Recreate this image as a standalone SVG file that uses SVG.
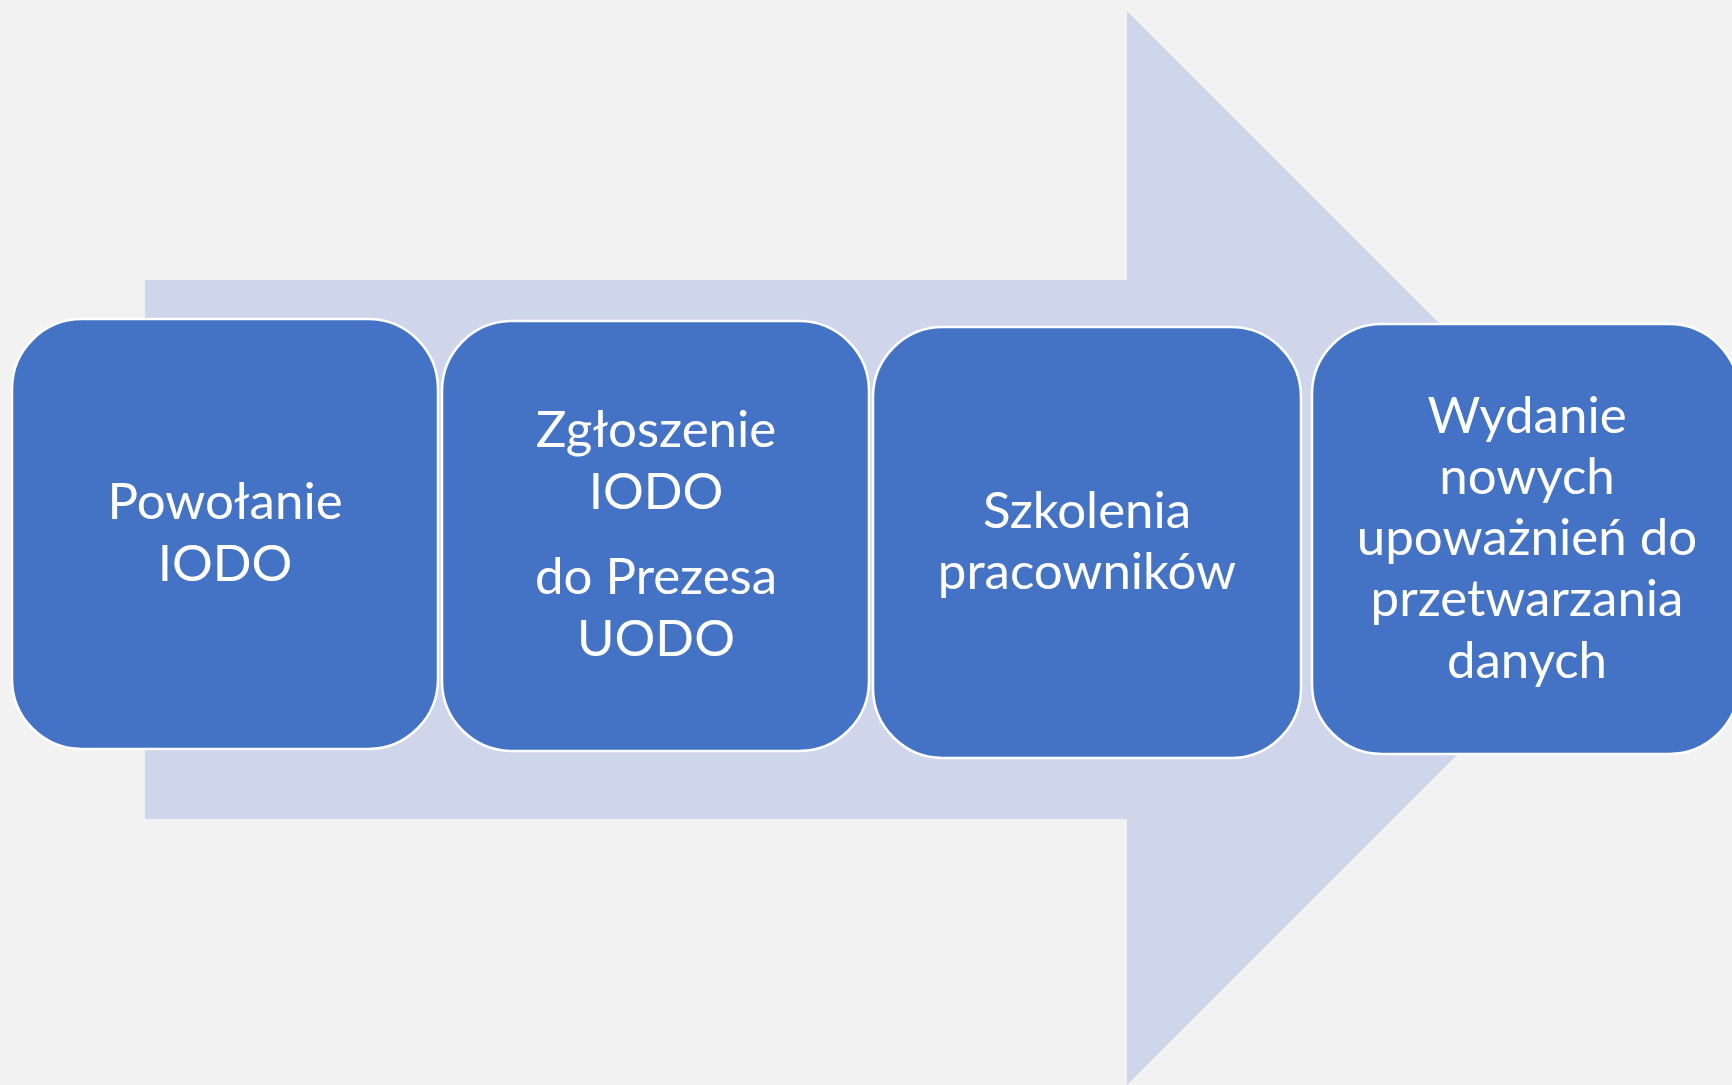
<svg xmlns="http://www.w3.org/2000/svg" width="1732" height="1085" viewBox="0 0 1732 1085">
<style>
.box{fill:#4472C4;stroke:#FFFFFF;stroke-width:2.5}
.t{font-family:Lato,"Open Sans","Liberation Sans",sans-serif;font-size:51px;fill:#FFFFFF;text-anchor:middle}
</style>
<rect x="0" y="0" width="1732" height="1085" fill="#F2F2F2"/>
<g id="connectors">
<polygon id="arrow" points="145,280 1127,280 1127,11 1664,548 1127,1085 1127,819 145,819" fill="#CFD5EA"/>
</g>
<g id="node1">
<rect class="box" x="12" y="319" width="426" height="430" rx="70" ry="70"/>
<text class="t" x="225" y="519">Powołanie</text>
<text class="t" x="225" y="581">IODO</text>
</g>
<g id="node2">
<rect class="box" x="442" y="321" width="427" height="430" rx="70" ry="70"/>
<text class="t" x="656" y="447">Zgłoszenie</text>
<text class="t" x="656" y="509">IODO</text>
<text class="t" x="656" y="594">do Prezesa</text>
<text class="t" x="656" y="656">UODO</text>
</g>
<g id="node3">
<rect class="box" x="873" y="327" width="428" height="431" rx="70" ry="70"/>
<text class="t" x="1087" y="528">Szkolenia</text>
<text class="t" x="1087" y="589">pracowników</text>
</g>
<g id="node4">
<rect class="box" x="1312" y="324" width="427" height="430" rx="70" ry="70"/>
<text class="t" x="1527" y="433">Wydanie</text>
<text class="t" x="1527" y="494">nowych</text>
<text class="t" x="1527" y="555">upoważnień do</text>
<text class="t" x="1527" y="616">przetwarzania</text>
<text class="t" x="1527" y="678">danych</text>
</g>
</svg>
